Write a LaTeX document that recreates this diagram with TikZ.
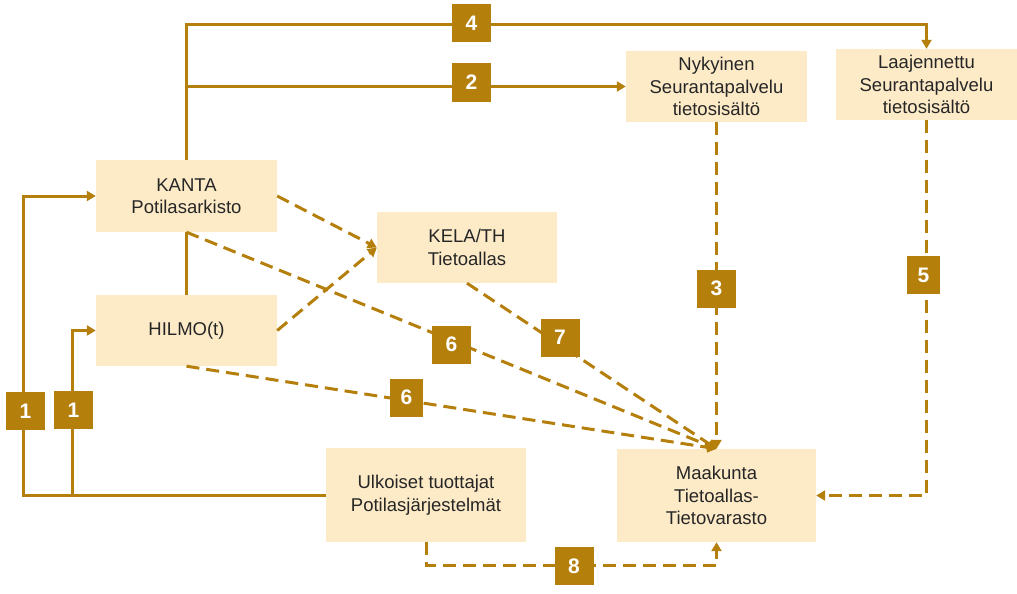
\documentclass[tikz,border=0pt]{standalone}
\usepackage{fontspec}
\setmainfont{Liberation Sans}
\usepackage{tikz}
\usetikzlibrary{arrows.meta,calc}
\definecolor{goldO}{HTML}{B57F0C}
\definecolor{paleO}{HTML}{FDEBC8}

\begin{document}
\begin{tikzpicture}[
    x=1pt, y=-1pt,
    box/.style={fill=paleO, inner sep=0pt, align=center, text=black!85, font=\fontsize{18.5}{22.5}\selectfont},
    numbox/.style={fill=goldO, text=white, inner sep=0pt, minimum width=39pt, minimum height=38pt, font=\fontsize{21}{21}\selectfont\bfseries},
    flow/.style={draw=goldO, line width=3pt, -{Triangle[length=9pt,width=10pt]}},
    plain/.style={draw=goldO, line width=3pt},
    feed/.style={flow, dash pattern=on 13pt off 7pt}
]
\useasboundingbox (0,0) rectangle (1017,594);

% boxes
\node[box, minimum width=181pt, minimum height=72pt] (kanta) at (186.5,196) {KANTA\\Potilasarkisto};
\node[box, minimum width=181pt, minimum height=71pt] (hilmo) at (186.5,330.5) {HILMO(t)};
\node[box, minimum width=180pt, minimum height=71pt] (kela) at (467,247.5) {KELA/TH\\Tietoallas};
\node[box, minimum width=181pt, minimum height=71pt] (nyk) at (716.5,86.5) {Nykyinen\\Seurantapalvelu\\tietosisältö};
\node[box, minimum width=181pt, minimum height=71pt] (laaj) at (926.5,84.5) {Laajennettu\\Seurantapalvelu\\tietosisältö};
\node[box, minimum width=200pt, minimum height=94pt] (ulk) at (426,495) {Ulkoiset tuottajat\\Potilasjärjestelmät};
\node[box, minimum width=199pt, minimum height=93pt] (maak) at (716.5,495.5) {Maakunta\\Tietoallas-\\Tietovarasto};

\coordinate (top4) at (926.5,25);
\coordinate (busA) at (23,0);
\coordinate (busB) at (72,0);

% solid connectors
\draw[flow] (kanta.north) |- (top4) -- (laaj.north);
\draw[flow] (kanta.north |- nyk.west) -- (nyk.west);
\draw[plain] (kanta.south) -- (hilmo.north);
\draw[flow] (ulk.west) -| (busA |- kanta.west) -- (kanta.west);
\draw[flow] (busB |- ulk.west) -- (busB |- hilmo.west) -- (hilmo.west);

% dashed connectors
\draw[feed] (kanta.east) -- (kela.west);
\draw[feed] (hilmo.east) -- (kela.west);
\draw[feed] (kanta.south) -- (maak.north);
\draw[feed] (hilmo.south) -- (maak.north);
\draw[feed] (kela.south) -- (maak.north);
\draw[feed] (nyk.south) -- (maak.north);
\draw[feed] (laaj.south) |- (maak.east);
\draw[feed] (ulk.south) -- ++(0,23) -| (maak.south);

% numbers
\node[numbox] (n4) at (471.5,23) {4};
\node[numbox] (n2) at (471.5,82.5) {2};
\node[numbox] (n3) at (716.5,288.5) {3};
\node[numbox, minimum width=33pt] (n5) at (923.5,275) {5};
\node[numbox] (n6a) at (451.5,344.5) {6};
\node[numbox, minimum width=33pt] (n6b) at (406.5,397.5) {6};
\node[numbox] (n7) at (560,337.5) {7};
\node[numbox] (n1a) at (25.5,411) {1};
\node[numbox] (n1b) at (73.5,410) {1};
\node[numbox] (n8) at (574,566) {8};
\end{tikzpicture}
\end{document}
